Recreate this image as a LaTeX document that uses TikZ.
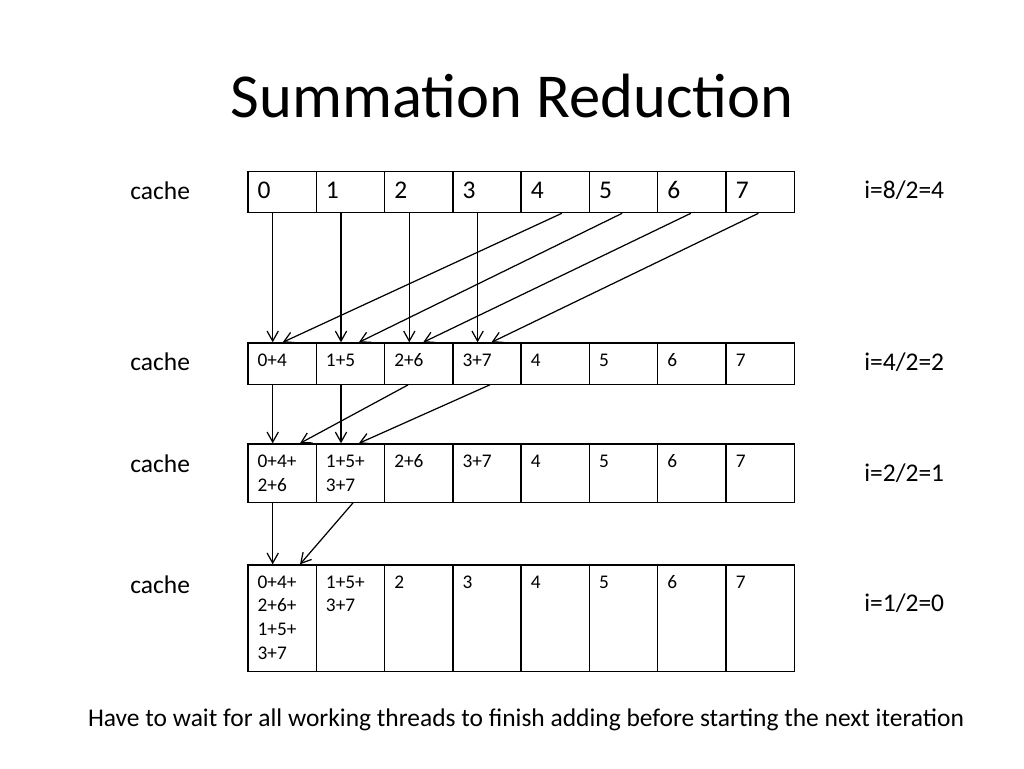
\documentclass[tikz,border=0pt]{standalone}
\usepackage{fontspec}
\setmainfont{Carlito}
\usetikzlibrary{calc, arrows.meta}
\definecolor{Ink}{HTML}{000000}
\newcommand{\cellstack}[1]{\begin{tabular}[t]{@{}l@{}}#1\end{tabular}}
\tikzset{
    cell/.style={rectangle, draw=Ink, line width=0.75pt, minimum width=1.366cm, anchor=north west, inner sep=0pt},
    bigtxt/.style={anchor=base west, inner sep=0pt, text=Ink, font=\fontsize{14.5}{17}\selectfont},
    smalltxt/.style={anchor=base west, inner sep=0pt, text=Ink, font=\fontsize{11}{13.6}\selectfont},
    sidelabel/.style={anchor=base west, inner sep=0pt, text=Ink, font=\fontsize{14.5}{17}\selectfont},
    arr/.style={-{Straight Barb[length=5.7pt, width=6.4pt]}, line width=0.7pt, color=Ink},
}
\begin{document}
\begin{tikzpicture}[x=0.02cm, y=-0.02cm]
    \useasboundingbox (0,0) rectangle (1024,768);

    % Titolo
    \node[anchor=base, inner sep=0pt, font=\fontsize{35.6}{42}\selectfont] (title) at (512,117) {Summation Reduction};

    % 1. cache iniziale
    \foreach \txt [count=\k from 0] in {0,1,2,3,4,5,6,7} {
        \node[cell, minimum height=0.826cm] (r1c\k) at ({247.3+68.3*\k},170.7) {};
        \node[bigtxt] (t1c\k) at ($(r1c\k.north west)+(10,27.3)$) {\txt};
    }

    % 2. dopo i=4
    \foreach \txt [count=\k from 0] in {0+4,1+5,2+6,3+7,4,5,6,7} {
        \node[cell, minimum height=0.824cm] (r2c\k) at ({247.3+68.3*\k},342.3) {};
        \node[smalltxt] (t2c\k) at ($(r2c\k.north west)+(10,23.7)$) {\txt};
    }

    % 3. dopo i=2
    \foreach \txt [count=\k from 0] in {{0+4+\\2+6},{1+5+\\3+7},2+6,3+7,4,5,6,7} {
        \node[cell, minimum height=1.168cm] (r3c\k) at ({247.3+68.3*\k},443.3) {};
        \node[smalltxt] (t3c\k) at ($(r3c\k.north west)+(10,24.2)$) {\cellstack{\txt}};
    }

    % 4. dopo i=1
    \foreach \txt [count=\k from 0] in {{0+4+\\2+6+\\1+5+\\3+7},{1+5+\\3+7},2,3,4,5,6,7} {
        \node[cell, minimum height=2.128cm] (r4c\k) at ({247.3+68.3*\k},564.3) {};
        \node[smalltxt] (t4c\k) at ($(r4c\k.north west)+(10,23.7)$) {\cellstack{\txt}};
    }

    % Etichette laterali
    \node[sidelabel] (cache1) at (130,199) {cache};
    \node[sidelabel] (cache2) at (130,370) {cache};
    \node[sidelabel] (cache3) at (130,472) {cache};
    \node[sidelabel] (cache4) at (130,593) {cache};
    \node[sidelabel] (step1) at (864,198) {i=8/2=4};
    \node[sidelabel] (step2) at (864,370) {i=4/2=2};
    \node[sidelabel] (step3) at (864,481) {i=2/2=1};
    \node[sidelabel] (step4) at (864,611) {i=1/2=0};

    % Frecce di somma
    \foreach \a/\p/\b/\q in {r1c0/25.4/r2c0/25.4, r1c1/25.4/r2c1/25.4, r1c2/25.4/r2c2/25.4, r1c3/25.4/r2c3/25.4,
                             r1c4/41.3/r2c0/35.4, r1c5/33.3/r2c1/43.3, r1c6/33.7/r2c2/39.3, r1c7/33/r2c3/39.3,
                             r2c0/25.4/r3c0/25.4, r2c1/25.4/r3c1/25.4,
                             r2c2/24.3/r3c0/52.7, r2c3/37.7/r3c1/43.3,
                             r3c0/25.4/r4c0/25.4, r3c1/37.3/r4c0/52.7}
        \draw[arr] ($(\a.south west)+(\p,0)$) -- ($(\b.north west)+(\q,0)$);

    % Nota finale
    \node[anchor=base, inner sep=0pt, text=Ink, font=\fontsize{14.5}{17}\selectfont] (note) at (526,726)
        {Have to wait for all working threads to finish adding before starting the next iteration};
\end{tikzpicture}
\end{document}
